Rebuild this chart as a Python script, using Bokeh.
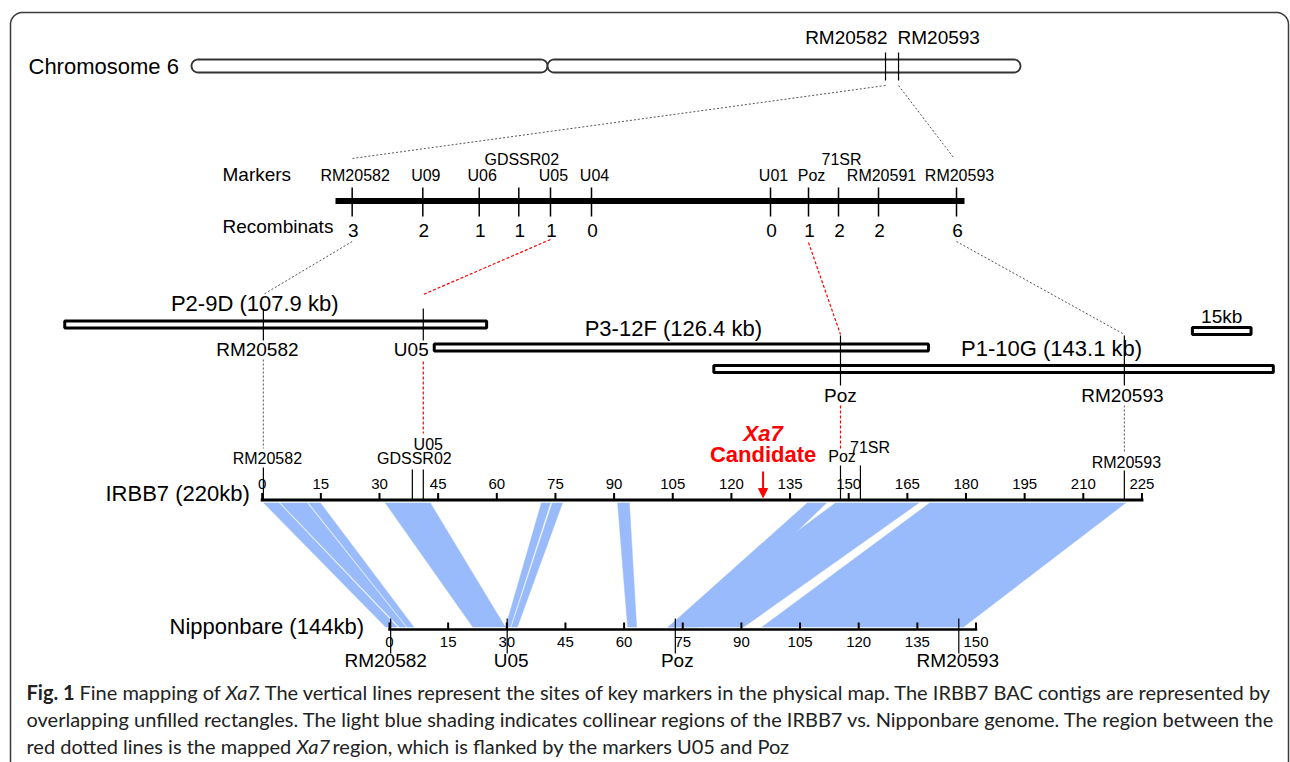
import numpy as np
from bokeh.plotting import figure
from bokeh.models import Range1d, Arrow, NormalHead
from bokeh.core.properties import value
from bokeh.embed import file_html
from bokeh.resources import INLINE

# ---------------- data ----------------
chrom_name = "Chromosome 6"
chrom_length_mb = 31.2
chrom_centromere_mb = 13.4
chrom_marker_names = ["RM20582", "RM20593"]
chrom_marker_mb = [26.12, 26.61]

map_marker_names = ["RM20582", "U09", "U06", "GDSSR02", "U05", "U04",
                    "U01", "Poz", "71SR", "RM20591", "RM20593"]
map_marker_pos = [2.65, 13.88, 22.85, 29.14, 34.18, 40.70,
                  69.16, 75.20, 79.97, 86.33, 98.73]
map_recombinants = [3, 2, 1, 1, 1, 0, 0, 1, 2, 2, 6]
map_length = 100.0
map_raised = ["GDSSR02", "71SR"]

bac_names = ["P2-9D", "P3-12F", "P1-10G"]
bac_start_kb = [-50.5, 44.0, 115.5]
bac_length_kb = [107.9, 126.4, 143.1]
scale_bar_kb = 15
scale_bar_start_kb = 237.9

bac_marker_names = ["RM20582", "U05", "Poz", "RM20593"]
bac_marker_kb = [0.3, 41.2, 147.9, 220.5]

irbb_label = "IRBB7 (220kb)"
irbb_axis_max = 225
tick_step = 15
irbb_marker_names = ["RM20582", "GDSSR02", "U05", "Poz", "71SR", "RM20593"]
irbb_marker_kb = [0.3, 38.4, 41.2, 147.9, 153.0, 220.5]
xa7_kb = 128.1

nip_label = "Nipponbare (144kb)"
nip_axis_max = 150
nip_marker_names = ["RM20582", "U05", "Poz", "RM20593"]
nip_marker_kb = [0.3, 30.1, 73.1, 145.6]

block_irbb_start = [0.4, 4.7, 11.9, 31.5, 71.4, 74.2, 90.9, 139.4, 146.6, 170.7]
block_irbb_end = [4.3, 11.5, 14.9, 43.0, 73.7, 76.8, 93.9, 144.3, 167.9, 220.8]
block_nip_start = [-1.0, 2.5, 4.5, 21.3, 29.7, 31.2, 60.9, 71.3, 71.3, 95.3]
block_nip_end = [2.0, 4.2, 6.2, 29.6, 30.9, 32.7, 63.2, 78.8, 90.6, 146.8]

caption_line1 = [("Fig. 1", "bold"), ("Fine mapping of", "normal"), ("Xa7", "italic"),
                 (". The vertical lines represent the sites of key markers in the physical map. "
                  "The IRBB7 BAC contigs are represented by", "normal")]
caption_line2 = ("overlapping unfilled rectangles. The light blue shading indicates collinear regions "
                 "of the IRBB7 vs. Nipponbare genome. The region between the")
caption_line3 = [("red dotted lines is the mapped", "normal"), ("Xa7", "italic"),
                 ("region, which is flanked by the markers U05 and Poz", "normal")]

# ---------------- layout ----------------
W, H = 1290, 762
FONT = value("Liberation Sans")
CAP_FONT = value("Lato")
BLUE = "#99bbfb"
RED = "#ff0000"
GREY = "#555555"

CHR_X0, CHR_X1, CHR_Y, CHR_R = 191.0, 1020.0, 65.5, 6.5
MAP_X0, MAP_X1, MAP_Y = 335.0, 964.0, 200.5
KB_PX = 3.91
IRBB_X0, IRBB_Y = 261.7, 499.5
NIP_X0, NIP_Y = 389.0, 629.0
BAC_ROW_Y = [324.0, 347.0, 368.5]
BAC_TITLE_Y = [303.0, 328.0, 348.0]
BAC_TITLE_DX = [-21, -8, 58]
BLOCK_TOP, BLOCK_BOT = 502.5, 626.5


def chr_x(mb):
    return CHR_X0 + np.asarray(mb, dtype=float) * (CHR_X1 - CHR_X0) / chrom_length_mb


def map_x(pos):
    return MAP_X0 + np.asarray(pos, dtype=float) * (MAP_X1 - MAP_X0) / map_length


def irbb_x(kb):
    return IRBB_X0 + np.asarray(kb, dtype=float) * KB_PX


def nip_x(kb):
    return NIP_X0 + np.asarray(kb, dtype=float) * KB_PX


p = figure(width=W, height=H, x_range=Range1d(0, W), y_range=Range1d(H, 0),
           output_backend="svg", toolbar_location=None, min_border=0,
           x_axis_type=None, y_axis_type=None)
p.grid.visible = False
p.outline_line_color = None
p.background_fill_color = "white"
p.border_fill_color = "white"


def txt(xs, ys, texts, size, align="center", color="black", style="normal", font=FONT,
        baseline="middle"):
    xs = list(np.atleast_1d(xs).astype(float))
    ys = list(np.atleast_1d(ys).astype(float))
    if isinstance(texts, str):
        texts = [texts]
    if len(ys) == 1 and len(xs) > 1:
        ys = ys * len(xs)
    p.text(x=xs, y=ys, text=list(texts), text_font=font, text_font_size=size,
           text_align=align, text_baseline=baseline, text_color=color,
           text_font_style=style)


# ---- frame border (rounded) ----
R = 12
a1 = np.linspace(np.pi, 1.5 * np.pi, 16)
a2 = np.linspace(1.5 * np.pi, 2 * np.pi, 16)
bx = np.concatenate([[10], 10 + R + R * np.cos(a1), 1288 - R + R * np.cos(a2), [1288]])
by = np.concatenate([[770], 12 + R + R * np.sin(a1), 12 + R + R * np.sin(a2), [770]])
p.line(bx, by, line_color="#3a3a3a", line_width=1.5)

# ---- chromosome ----
def capsule(x0, x1, yc, r, n=24):
    t = np.linspace(-np.pi / 2, np.pi / 2, n)
    rx = (x1 - r) + r * np.cos(t)
    ry = yc + r * np.sin(t)
    lx = (x0 + r) - r * np.cos(t)
    ly = yc - r * np.sin(t)
    return list(np.concatenate([rx, lx])), list(np.concatenate([ry, ly]))

cen_x = float(chr_x(chrom_centromere_mb))
c1 = capsule(CHR_X0, cen_x, CHR_Y, CHR_R)
c2 = capsule(cen_x, CHR_X1, CHR_Y, CHR_R)
p.patches([c1[0], c2[0]], [c1[1], c2[1]], fill_color="white", line_color="#333333", line_width=1.8)
txt(28, CHR_Y, chrom_name, "22px", align="left")

cmx = chr_x(chrom_marker_mb)
p.segment(x0=cmx, y0=[52] * 2, x1=cmx, y1=[80] * 2, line_color="black", line_width=1.2)
txt(cmx[0] + 2, 37, chrom_marker_names[0], "19px", align="right")
txt(cmx[1] - 1, 37, chrom_marker_names[1], "19px", align="left")

# dashed zoom lines chromosome -> genetic map
mx = map_x(map_marker_pos)
p.segment(x0=[cmx[0], cmx[1]], y0=[85, 85], x1=[mx[0], mx[-1] - 3], y1=[158, 157],
          line_color=GREY, line_width=1, line_dash="2 2")

# ---- genetic map ----
txt(222, 174, "Markers", "19px", align="left")
txt(222, 226, "Recombinats", "19px", align="left")
p.segment(x0=[MAP_X0], y0=[MAP_Y], x1=[MAP_X1], y1=[MAP_Y], line_color="black", line_width=6,
          line_cap="butt")
p.segment(x0=mx, y0=[187] * len(mx), x1=mx, y1=[216] * len(mx), line_color="black", line_width=1.5)
lab_y = [159 if n in map_raised else 175 for n in map_marker_names]
txt(mx + 3, lab_y, map_marker_names, "16px")
txt(mx + 1, 230, [str(v) for v in map_recombinants], "19px")

# connectors genetic map -> BACs
bmx = irbb_x(bac_marker_kb)
i_rm82, i_u05, i_poz, i_rm93 = [map_marker_names.index(n) for n in bac_marker_names]
p.segment(x0=[mx[i_rm82], mx[i_rm93]], y0=[241, 241], x1=[bmx[0], bmx[3]], y1=[294, 334],
          line_color=GREY, line_width=1, line_dash="2 2")
p.segment(x0=[mx[i_u05], mx[i_poz]], y0=[239, 242], x1=[bmx[1], bmx[2]], y1=[294, 334],
          line_color=RED, line_width=1.2, line_dash="3 2")

# ---- BAC contigs ----
bs = irbb_x(bac_start_kb)
be = irbb_x(np.asarray(bac_start_kb) + np.asarray(bac_length_kb))
p.quad(left=bs, right=be, top=[y - 3.5 for y in BAC_ROW_Y], bottom=[y + 3.5 for y in BAC_ROW_Y],
       fill_color="white", line_color="black", line_width=3)
txt((bs + be) / 2 + np.array(BAC_TITLE_DX), BAC_TITLE_Y,
    [f"{n} ({l} kb)" for n, l in zip(bac_names, bac_length_kb)], "22px")
# scale bar
sbs = irbb_x(scale_bar_start_kb)
sbe = irbb_x(scale_bar_start_kb + scale_bar_kb)
p.quad(left=[sbs], right=[sbe], top=[327], bottom=[334], fill_color="white",
       line_color="black", line_width=3)
txt((sbs + sbe) / 2, 316, f"{scale_bar_kb}kb", "19px")

# BAC marker lines
p.segment(x0=bmx, y0=[308, 308, 335, 335], x1=bmx, y1=[340, 340, 385, 385],
          line_color="black", line_width=1.2)
txt(bmx + np.array([-6, -12, 0, -2]), [349, 349, 395, 395], bac_marker_names, "19px")

# vertical connectors BAC -> IRBB7
p.segment(x0=[bmx[0], bmx[3]], y0=[359, 405], x1=[bmx[0], bmx[3]], y1=[448, 452],
          line_color=GREY, line_width=1, line_dash="2 2")
p.segment(x0=[bmx[1], bmx[2]], y0=[361, 405], x1=[bmx[1], bmx[2]], y1=[433, 448],
          line_color=RED, line_width=1.2, line_dash="3 2")

# ---- collinear blocks ----
xs, ys = [], []
for s, e, ns, ne in zip(block_irbb_start, block_irbb_end, block_nip_start, block_nip_end):
    xs.append([float(irbb_x(s)), float(irbb_x(e)), float(nip_x(ne)), float(nip_x(ns))])
    ys.append([BLOCK_TOP, BLOCK_TOP, BLOCK_BOT, BLOCK_BOT])
p.patches(xs, ys, fill_color=BLUE, line_color=BLUE, line_width=0.5)

# ---- IRBB7 axis ----
ticks = np.arange(0, irbb_axis_max + 1, tick_step)
tx = irbb_x(ticks)
p.segment(x0=[tx[0]], y0=[IRBB_Y], x1=[tx[-1]], y1=[IRBB_Y], line_color="black", line_width=3,
          line_cap="square")
p.segment(x0=tx, y0=[IRBB_Y] * len(tx), x1=tx, y1=[IRBB_Y - 7] * len(tx), line_color="black",
          line_width=2)
txt(tx, 483, [str(t) for t in ticks], "15px")
txt(105, 493, irbb_label, "22px", align="left")

imx = irbb_x(irbb_marker_kb)
p.segment(x0=imx, y0=[467, 469, 469, 465, 465, 470], x1=imx, y1=[IRBB_Y] * len(imx),
          line_color="black", line_width=1.2)
txt(imx + np.array([4, 2, 5, 1.5, 9.6, 2]), [458, 458, 444, 456, 447, 462],
    irbb_marker_names, "16px")

xa = float(irbb_x(xa7_kb))
p.add_layout(Arrow(x_start=xa, y_start=471, x_end=xa, y_end=497, line_color=RED, line_width=2,
                   end=NormalHead(size=9, fill_color=RED, line_color=RED)))
txt(xa, 433, "Xa7", "22px", color=RED, style="bold italic")
txt(xa, 454, "Candidate", "22px", color=RED, style="bold")

# ---- Nipponbare axis ----
nt = np.arange(0, nip_axis_max + 1, tick_step)
ntx = nip_x(nt)
p.segment(x0=[ntx[0]], y0=[NIP_Y], x1=[ntx[-1]], y1=[NIP_Y], line_color="black", line_width=2.5,
          line_cap="square")
p.segment(x0=ntx, y0=[NIP_Y] * len(ntx), x1=ntx, y1=[NIP_Y - 7] * len(ntx), line_color="black",
          line_width=2)
txt(ntx, 641, [str(t) for t in nt], "15px")
txt(169, 626, nip_label, "22px", align="left")
nmx = nip_x(nip_marker_kb)
p.segment(x0=nmx, y0=[618] * 4, x1=nmx, y1=[653] * 4, line_color="black", line_width=1.2)
txt(nmx + np.array([-5, 4, 2, -1]), 660, nip_marker_names, "19px")

# ---- caption ----
cap_col = "#222222"
CAP_SIZE = "20px"
x1_pos = [26, 79, 225, 255]
for (s, st), x in zip(caption_line1, x1_pos):
    txt(x, 691, s, CAP_SIZE, align="left", color=cap_col, style=st, font=CAP_FONT)
txt(26, 718, caption_line2, CAP_SIZE, align="left", color=cap_col, font=CAP_FONT)
x3_pos = [26, 296, 332]
for (s, st), x in zip(caption_line3, x3_pos):
    txt(x, 745, s, CAP_SIZE, align="left", color=cap_col, style=st, font=CAP_FONT)

open("out.html", "w").write(file_html(p, INLINE))
